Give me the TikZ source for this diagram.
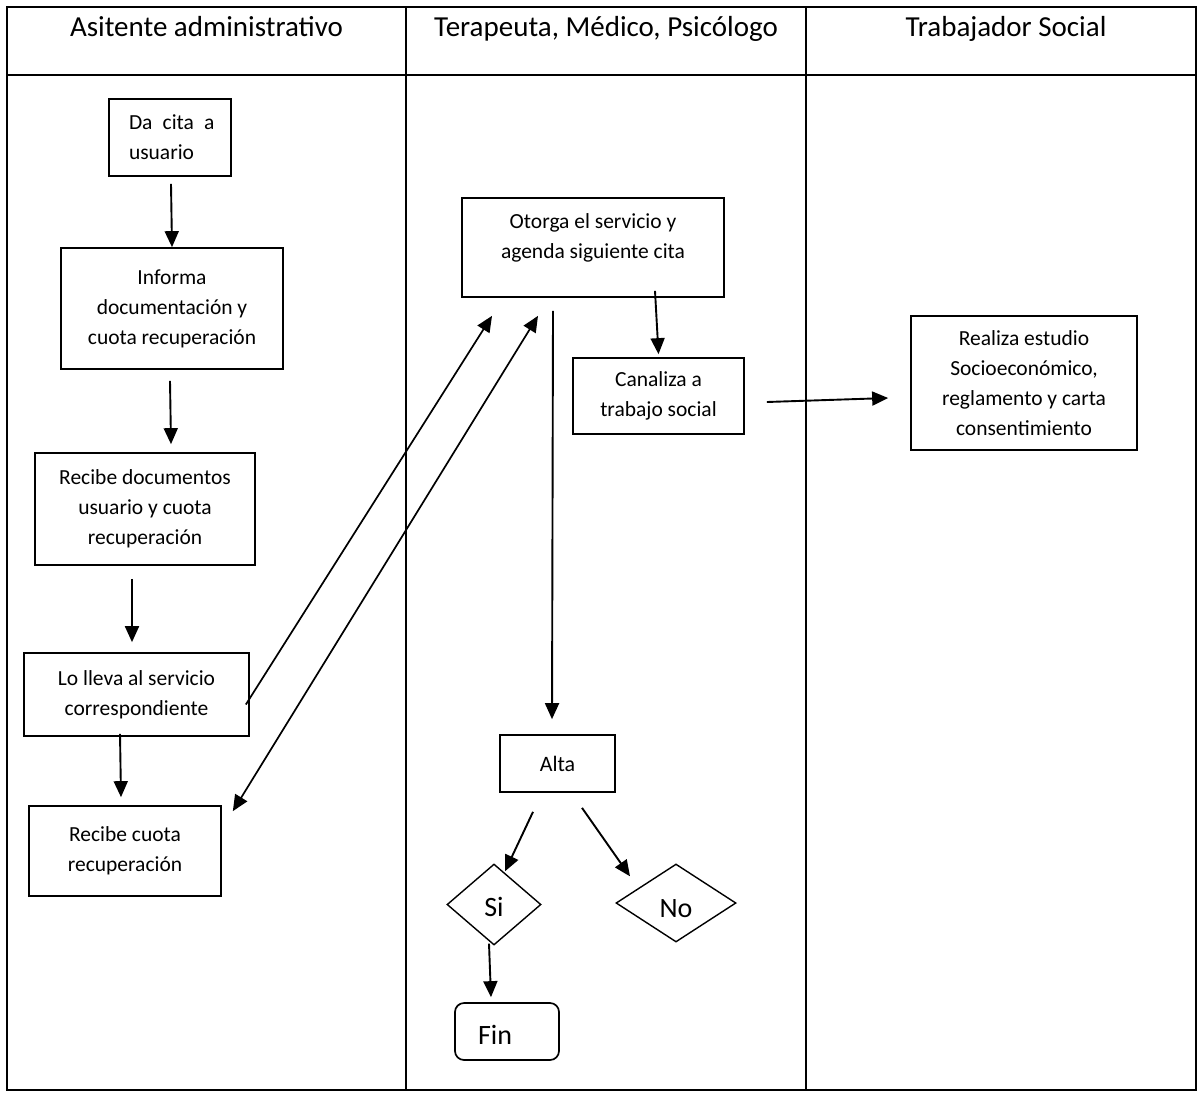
\documentclass[tikz,border=0pt]{standalone}
\usepackage{fontspec}
\setmainfont{Carlito}
\usetikzlibrary{shapes.geometric,arrows.meta}

\begin{document}
\begin{tikzpicture}[x=1pt, y=-1pt,
    proceso/.style={draw, line width=1.7pt, align=center, inner sep=0pt,
        font=\fontsize{21.5}{30}\selectfont},
    decision/.style={draw, diamond, line width=1.4pt, inner sep=0pt,
        font=\fontsize{28}{32}\selectfont},
    titulo/.style={anchor=base, font=\fontsize{29}{34}\selectfont},
    flecha/.style={line width=1.9pt, -{Triangle[length=16pt, width=14pt]}},
    cruce/.style={line width=1.7pt}]
    \useasboundingbox (0,0) rectangle (1198,1092);

    % carriles
    \draw[line width=1.7pt] (7,7) rectangle (1196,1090);
    \draw[line width=1.7pt] (7,75) -- (1196,75);
    \draw[line width=1.7pt] (406,7) -- (406,1090);
    \draw[line width=1.7pt] (806,7) -- (806,1090);

    \node[titulo] (carril_asistente) at (206.5,36) {Asitente administrativo};
    \node[titulo] (carril_terapeuta) at (606,36) {Terapeuta, Médico, Psicólogo};
    \node[titulo] (carril_trabajador) at (1006,36) {Trabajador Social};

    % asistente administrativo
    \node[proceso, minimum width=122pt, minimum height=77pt, align=left, text width=82pt] (da_cita) at (170,137.5)
         {\mbox{Da\hspace{3pt} cita\hspace{3pt} a}\\usuario};
    \node[proceso, minimum width=222pt, minimum height=121pt] (informa_doc) at (172,308.5)
         {Informa\\documentación y\\cuota recuperación};
    \node[proceso, minimum width=220pt, minimum height=112pt] (recibe_docs) at (145,509)
         {Recibe documentos\\usuario y cuota\\recuperación};
    \node[proceso, minimum width=225pt, minimum height=83pt] (lleva_servicio) at (136.5,694.5)
         {Lo lleva al servicio\\correspondiente};
    \node[proceso, minimum width=192pt, minimum height=90pt] (recibe_cuota) at (125,851)
         {Recibe cuota\\recuperación};

         % terapeuta, medico, psicologo
         \node[proceso, minimum width=262pt, minimum height=99pt, text depth=22pt] (otorga_servicio) at (593,247.5)
              {Otorga el servicio y\\agenda siguiente cita};
         \node[proceso, minimum width=171pt, minimum height=76pt] (canaliza) at (658.5,396)
              {Canaliza a\\trabajo social};
         \node[proceso, minimum width=115pt, minimum height=57pt, font=\fontsize{22}{26}\selectfont] (alta) at (557.5,763.5) {Alta};
         \node[decision, minimum width=94pt, minimum height=81pt, text height=24pt] (si) at (494,904.5) {Si\hspace{6pt}};
         \node[decision, minimum width=120pt, minimum height=78pt, text height=30pt] (no) at (676,903) {No};
         \node[proceso, rounded corners=9pt, minimum width=104pt, minimum height=57pt, text height=26pt,
               font=\fontsize{28}{32}\selectfont] (fin) at (507,1031.5) {Fin\hspace{24pt}};

              % trabajador social
              \node[proceso, minimum width=226pt, minimum height=134pt] (estudio) at (1024,383)
                   {Realiza estudio\\Socioeconómico,\\reglamento y carta\\consentimiento};

                   \path ([shift={(1,7)}]da_cita.south) edge[flecha] (informa_doc.north);
                   \path ([shift={(-2,11)}]informa_doc.south) edge[flecha] ([shift={(26,-8)}]recibe_docs.north);
                   \path ([shift={(-13,13)}]recibe_docs.south) edge[flecha] ([shift={(-4.5,-10)}]lleva_servicio.north);
                   \path ([shift={(-16.5,-3)}]lleva_servicio.south) edge[flecha] ([shift={(-4,-8)}]recibe_cuota.north);

                   \path ([shift={(-4,10)}]lleva_servicio.east) edge[cruce, -{Triangle[length=16pt, width=14pt]}] ([shift={(-101,18)}]otorga_servicio.south);
                   \path ([shift={(-55,18)}]otorga_servicio.south) edge[cruce, {Triangle[length=16pt, width=14pt]}-{Triangle[length=16pt, width=14pt]}] ([shift={(11,6)}]recibe_cuota.north east);

                   \path ([shift={(-40,13)}]otorga_servicio.south) edge[flecha] ([shift={(-5.5,-15)}]alta.north);
                   \path ([shift={(62,-7)}]otorga_servicio.south) edge[flecha] ([shift={(0,-3)}]canaliza.north);
                   \path ([shift={(22,6)}]canaliza.east) edge[flecha] ([shift={(-22,15)}]estudio.west);

                   \path ([shift={(-24.5,19)}]alta.south) edge[flecha] ([shift={(11,8)}]si.north);
                   \path ([shift={(24.5,15)}]alta.south) edge[flecha] ([shift={(-46,13)}]no.north);
                   \path ([shift={(-5,-2)}]si.south) edge[flecha] ([shift={(-16,-5)}]fin.north);
\end{tikzpicture}
\end{document}
